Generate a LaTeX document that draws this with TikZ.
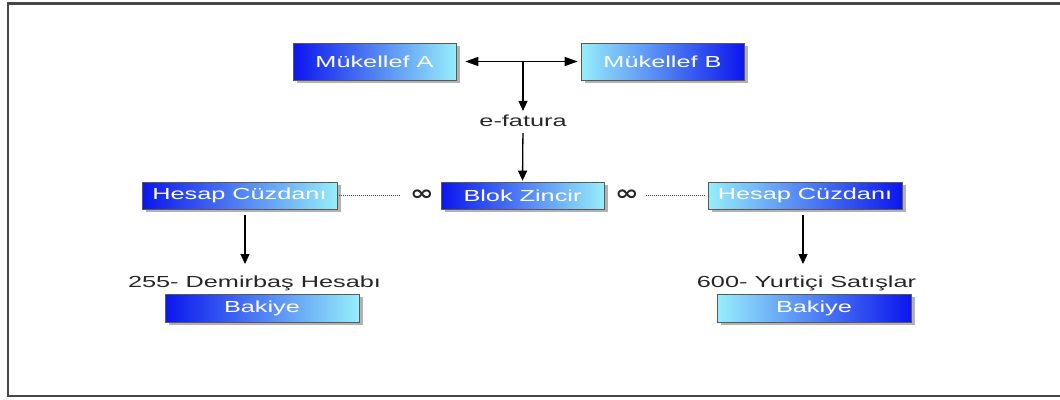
\documentclass[tikz,border=0pt]{standalone}
\usepackage{fontspec}
\usepackage{graphicx}
\setmainfont{Liberation Sans}
\newfontfamily\wf[FakeStretch=1.58]{Liberation Sans}
\newfontfamily\inff{DejaVu Sans}
\usetikzlibrary{arrows.meta,shadows}
\definecolor{deepblue}{RGB}{12,22,238}
\definecolor{lightcyan}{RGB}{150,238,250}
\definecolor{framegray}{RGB}{70,70,70}
\tikzset{
  gbox/.style={draw=gray!70!black, line width=0.6pt, minimum height=27pt, inner sep=0pt,
    text=white, font=\wf\fontsize{16}{19}\selectfont,
    drop shadow={shadow xshift=4pt, shadow yshift=-3pt, opacity=0.3, fill=black}},
  bc/.style={gbox, left color=deepblue, right color=lightcyan},
  cb/.style={gbox, left color=lightcyan, right color=deepblue},
  lbl/.style={inner sep=0pt, font=\wf\fontsize{16}{19}\selectfont, text=black!85},
  inf/.style={inner sep=0pt, text=black!85},
  arr/.style={line width=1.3pt, -{Triangle[length=10pt,width=9pt]}},
  dotline/.style={line width=0.9pt, gray!50!black, dash pattern=on 0.9pt off 1.1pt},
}
\newcommand{\infsym}{\scalebox{1.35}[1]{\inff\bfseries\fontsize{21}{21}\selectfont ∞}}
\begin{document}
\begin{tikzpicture}[x=1pt,y=-1pt]
\useasboundingbox (0,0) rectangle (1060,399);
\draw[framegray, line width=2.5pt] (1061,3.5) -- (8,3.5) -- (8,396) -- (1061,396);

\node[bc, minimum width=163pt, minimum height=37pt] (ma) at (374.5,61.5) {Mükellef A};
\node[cb, minimum width=163pt, minimum height=37pt] (mb) at (662.5,61.5) {Mükellef B};
\draw[line width=1.2pt, {Triangle[length=13pt,width=9pt]}-{Triangle[length=13pt,width=9pt]}, shorten <=9pt, shorten >=3pt] (ma.east) -- (mb.west);
\coordinate (j) at (523,61.5);
\node[lbl] (ef) at (523,121) {e-fatura};
\draw[arr, shorten >=4pt] (j) -- (ef.north);

\node[bc, minimum width=163pt] (bz) at (522.5,195.5) {Blok Zincir};
\draw[arr, shorten <=6pt, shorten >=1pt] (ef.south) -- (bz.north);

\node[bc, minimum width=195pt] (hl) at (239.5,195.5) {Hesap Cüzdanı};
\node[cb, minimum width=194pt] (hr) at (805,195.5) {Hesap Cüzdanı};

\node[inf] (il) at (422,195.5) {\infsym};
\node[inf] (ir) at (627,195.5) {\infsym};
\draw[dotline, shorten <=2pt, shorten >=10pt] (hl.east) -- (il.west);
\draw[dotline, shorten <=7pt, shorten >=3pt] (ir.east) -- (hr.west);

\node[lbl, anchor=base] (tl) at (254.5,287) {255- Demirbaş Hesabı};
\node[lbl, anchor=base] (tr) at (806.5,287) {600- Yurtiçi Satışlar};
\coordinate (al) at (245,209);
\coordinate (ar) at (803,209);
\draw[arr, shorten <=6pt] (al) -- (al |- 0,264);
\draw[arr, shorten <=6pt] (ar) -- (ar |- 0,264);

\node[bc, minimum width=194pt, minimum height=28pt] (bl) at (262,308) {Bakiye};
\node[cb, minimum width=194pt, minimum height=28pt] (br) at (814,308) {Bakiye};
\end{tikzpicture}
\end{document}
